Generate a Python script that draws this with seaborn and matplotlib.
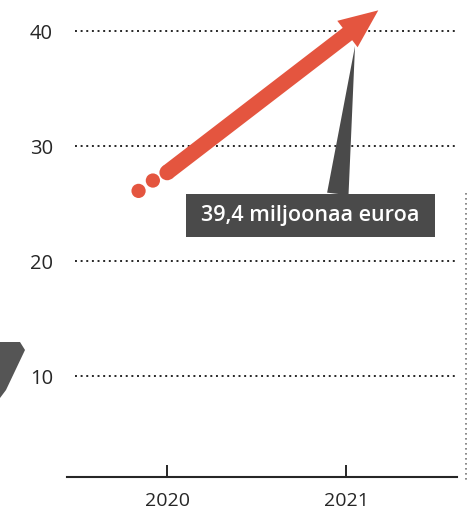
import matplotlib
matplotlib.use("Agg")
import matplotlib.pyplot as plt
import seaborn as sns
import pandas as pd
from matplotlib.patches import Polygon
from matplotlib.lines import Line2D
from matplotlib.path import Path

# ---- data ----
years = [2020, 2021]
year_labels = ["2020", "2021"]
y_ticks = [10, 20, 30, 40]
y_tick_labels = ["10", "20", "30", "40"]
trend_x = [2019.84, 2019.92, 2020.0, 2021.18]
trend_y = [26.1, 27.0, 27.7, 41.8]
value_2021 = 39.4
label_text = "39,4 miljoonaa euroa"

RED = "#e4553f"
DARK = "#262626"
BOX = "#4a4a4a"

sns.set_theme(style="white")
plt.rcParams['font.family'] = ['Open Sans', 'DejaVu Sans']

fig = plt.figure(figsize=(4.69, 5.09), dpi=100)
fig.patch.set_facecolor("white")
ax = fig.add_axes([67 / 469, 32 / 509, 390 / 469, 477 / 509])
ax.set_xlim(2019.44, 2021.62)
ax.set_ylim(1.22, 42.7)

# dotted gridlines
for v in y_ticks:
    ax.axhline(v, xmin=8 / 390, xmax=1, color=DARK, lw=1.4, ls=(0, (1, 1.9)), zorder=1)

# trend arrow: dots + shaft + head
df = pd.DataFrame({"x": trend_x[:3], "y": trend_y[:3]})
sns.scatterplot(data=df, x="x", y="y", s=[105, 105, 125], color=RED, edgecolor="none",
                ax=ax, zorder=3, legend=False)
ax.annotate("", xy=(trend_x[-1], trend_y[-1]), xytext=(trend_x[2], trend_y[2]),
            arrowprops=dict(arrowstyle="simple,head_length=1.4,head_width=1.2,tail_width=0.56",
                            mutation_scale=20, fc=RED, ec="none", shrinkA=0, shrinkB=0),
            zorder=3)


# box with wider horizontal than vertical padding
def wide_box(x0, y0, width, height, mutation_size):
    padx = 0.72 * mutation_size
    pady = 0.52 * mutation_size
    x0, y0 = x0 - padx, y0 - pady
    x1, y1 = x0 + width + 2 * padx, y0 + height + 2 * pady
    return Path([(x0, y0), (x1, y0), (x1, y1), (x0, y1), (x0, y0)], closed=True)


# value callout
ax.annotate(label_text, xy=(2021.05, value_2021 - 0.7), xytext=(2020.80, 23.95),
            ha="center", va="center", color="white", fontsize=15.5, fontweight="semibold",
            bbox=dict(boxstyle=wide_box, fc=BOX, ec="none"),
            arrowprops=dict(arrowstyle="wedge,tail_width=1.0", fc=BOX, ec="none",
                            relpos=(0.62, 1.0), shrinkA=0, shrinkB=0),
            zorder=4)

# axes styling
for s in ["left", "right", "top"]:
    ax.spines[s].set_visible(False)
ax.spines["bottom"].set_color(DARK)
ax.spines["bottom"].set_linewidth(1.5)
ax.set_xticks(years)
ax.set_xticklabels(year_labels)
ax.set_yticks(y_ticks)
ax.set_yticklabels(y_tick_labels)
ax.tick_params(axis="x", direction="in", length=8.5, width=1.4, color=DARK,
               labelsize=14, labelcolor=DARK, pad=11, bottom=True)
ax.tick_params(axis="y", length=0, labelsize=14.5, labelcolor=DARK, pad=10)
ax.set_xlabel("")
ax.set_ylabel("")
ax.grid(False)

# fragments of neighbouring graphics in the scan
fig.patches.append(Polygon([(0 / 469, 1 - 342 / 509), (20 / 469, 1 - 342 / 509),
                            (25 / 469, 1 - 350 / 509), (6 / 469, 1 - 390 / 509),
                            (0 / 469, 1 - 398 / 509)],
                           closed=True, transform=fig.transFigure, fc="#555555", ec="none"))
fig.lines.append(Line2D([466 / 469, 466 / 469], [1 - 193 / 509, 1 - 480 / 509],
                        transform=fig.transFigure, color="#777777", lw=1.2, ls=(0, (1, 2))))

fig.savefig("out.png", dpi=100)
